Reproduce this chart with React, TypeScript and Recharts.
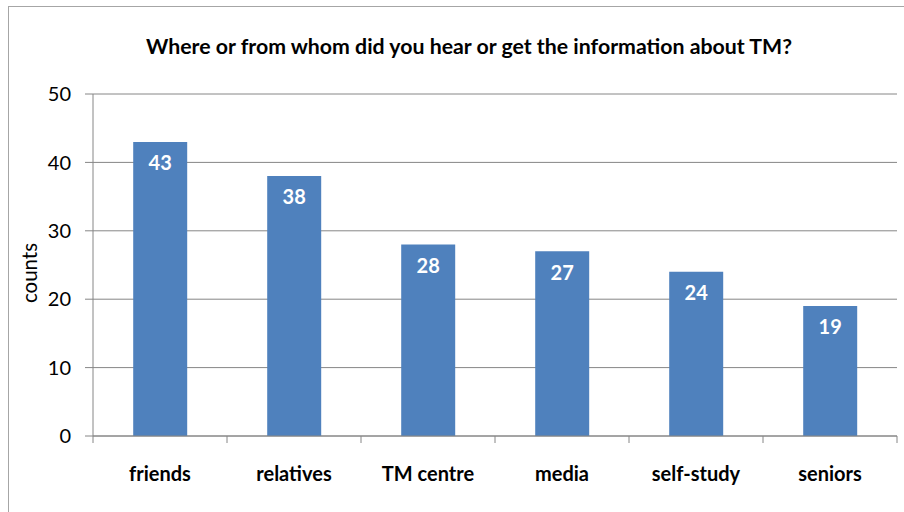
import {BarChart, Bar, XAxis, YAxis, CartesianGrid, LabelList} from 'recharts';

const categories = ['friends', 'relatives', 'TM centre', 'media', 'self-study', 'seniors'];
const counts = [43, 38, 28, 27, 24, 19];
const yTicks = [0, 10, 20, 30, 40, 50];

const data = categories.map((name, i) => ({name, counts: counts[i]}));

const FONT = 'Lato, Carlito, Calibri, "Open Sans", sans-serif';
const AXIS = '#868686';
const LABEL_GAP = 31;

// Excel puts the category ticks on the band edges, not the centres
const CategoryTick = ({x, y, payload, index}: any) => {
  const half = payload?.offset ?? 0;
  const top = y - LABEL_GAP;
  const last = index === categories.length - 1;
  return (
    <g>
      <line x1={x - half} x2={x - half} y1={top} y2={top + 7} stroke={AXIS} />
      {last && <line x1={x + half} x2={x + half} y1={top} y2={top + 7} stroke={AXIS} />}
      <text
        x={x}
        y={y}
        dy="0.71em"
        textAnchor="middle"
        fill="#000"
        style={{fontSize: 20, fontWeight: 700, fontFamily: FONT}}>
        {payload.value}
      </text>
    </g>
  );
};

export default function App() {
  return (
    <div
      style={{
        position: 'absolute',
        left: 0,
        top: 0,
        width: 904,
        height: 512,
        overflow: 'hidden',
        background: '#fff',
        fontFamily: FONT,
      }}>
      <div
        style={{
          position: 'absolute',
          left: 8,
          top: 6,
          width: 960,
          height: 560,
          border: '1px solid #a6a6a6',
        }}
      />
      <div
        style={{
          position: 'absolute',
          left: 0,
          top: 33,
          width: 938,
          textAlign: 'center',
          fontSize: 21.3,
          fontWeight: 700,
          color: '#000',
          whiteSpace: 'nowrap',
        }}>
        Where or from whom did you hear or get the information about TM?
      </div>
      <div
        style={{
          position: 'absolute',
          left: 29,
          top: 273,
          transform: 'translate(-50%, -50%) rotate(-90deg)',
          fontSize: 20.5,
          color: '#000',
          whiteSpace: 'nowrap',
        }}>
        counts
      </div>
      <div style={{position: 'absolute', left: 0, top: 0}}>
        <BarChart
          width={904}
          height={512}
          data={data}
          margin={{top: 94, right: 7, left: 33, bottom: 46}}
          barCategoryGap="30%">
          <CartesianGrid stroke={AXIS} vertical={false} />
          <XAxis
            dataKey="name"
            height={30}
            axisLine={{stroke: AXIS}}
            tickLine={false}
            tickSize={0}
            tickMargin={LABEL_GAP}
            interval={0}
            tick={<CategoryTick />}
          />
          <YAxis
            width={60}
            domain={[0, 50]}
            ticks={yTicks}
            axisLine={{stroke: AXIS}}
            tickLine={{stroke: AXIS}}
            tickSize={8}
            tickMargin={14}
            tick={{fill: '#000', fontSize: 20, fontFamily: FONT}}
          />
          <Bar dataKey="counts" fill="#4F81BD" isAnimationActive={false}>
            <LabelList
              dataKey="counts"
              position="insideTop"
              offset={14}
              fill="#fff"
              style={{fontSize: 20, fontWeight: 700, fontFamily: FONT}}
            />
          </Bar>
        </BarChart>
      </div>
    </div>
  );
}
